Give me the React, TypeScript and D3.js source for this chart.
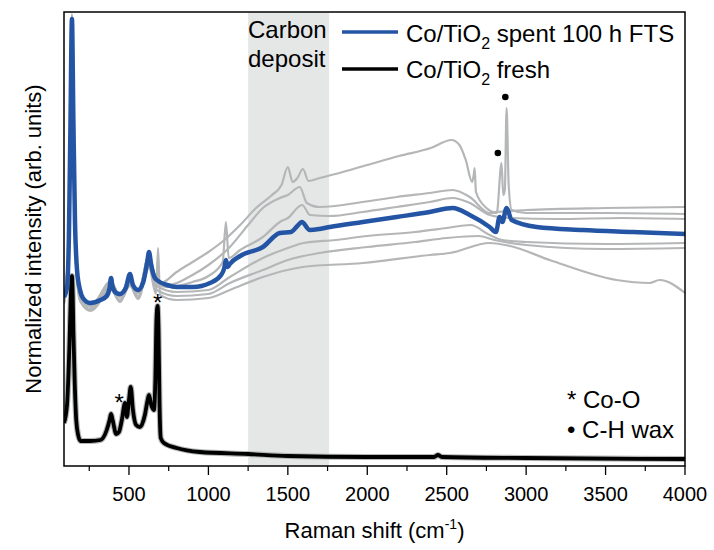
import React from "react";
import * as d3 from "d3";

type Pt = [number, number];

// Raman shift (cm-1), normalized intensity (arb. units)
const spent100h: Pt[] = [
  [91, 169], [110, 179], [122, 231], [132, 346], [141, 447], [150, 346], [160, 246], [173, 196], [192, 176],
  [210, 168], [255, 163], [320, 166], [360, 170], [378, 178], [387, 188], [397, 179], [420, 173], [443, 172],
  [480, 178], [506, 192], [525, 181], [557, 176], [590, 184], [615, 204], [626, 214], [640, 201], [660, 189],
  [676, 186], [740, 181], [800, 179], [903, 179], [1010, 183], [1080, 191], [1100, 198], [1110, 206], [1122, 199],
  [1135, 202], [1200, 210], [1343, 219], [1450, 233], [1520, 234], [1560, 240], [1588, 244], [1638, 236],
  [1700, 237], [1764, 239], [1972, 244], [2185, 249], [2393, 254], [2538, 258], [2645, 251], [2770, 239],
  [2810, 234], [2833, 249], [2850, 244], [2877, 258], [2909, 246], [3066, 239], [3355, 236], [3670, 234], [4000, 232],
];

const fresh: Pt[] = [
  [91, 43], [110, 61], [125, 120], [133, 165], [141, 190], [146, 170], [150, 135], [158, 86], [168, 46], [180, 31],
  [195, 25], [255, 25], [320, 26], [360, 36], [378, 46], [387, 52], [397, 46], [420, 32], [437, 34], [455, 46],
  [475, 63], [487, 49], [500, 66], [511, 79], [525, 56], [545, 41], [569, 39], [600, 51], [615, 64], [626, 71],
  [640, 61], [657, 56], [666, 86], [673, 146], [680, 160], [686, 136], [692, 66], [700, 28], [720, 23], [800, 18],
  [946, 14], [1250, 12], [1500, 10], [2000, 9], [2420, 9], [2445, 11], [2470, 9], [3000, 8], [4000, 7],
];

const spentA: Pt[] = [
  [91, 166], [122, 226], [132, 341], [141, 452], [150, 341], [160, 241], [175, 191], [195, 172],
  [260, 159], [387, 184], [443, 169], [506, 188], [557, 173], [626, 210], [676, 183], [700, 183], [800, 194],
  [900, 204], [1000, 214], [1100, 226], [1200, 241], [1300, 258], [1400, 271], [1460, 281], [1500, 299],
  [1530, 284], [1560, 288], [1595, 297], [1630, 285], [1700, 288], [1800, 292], [2000, 301], [2200, 310],
  [2400, 318], [2530, 326], [2580, 321], [2620, 306], [2660, 284], [2670, 291], [2676, 298], [2684, 274],
  [2750, 258], [2800, 254], [3000, 256], [3500, 258], [4000, 259],
];

const spentB: Pt[] = [
  [91, 167], [122, 221], [132, 331], [141, 441], [150, 331], [160, 236], [175, 188], [195, 170],
  [260, 161], [387, 183], [443, 170], [506, 187], [557, 174], [626, 208], [676, 184], [750, 181], [900, 191],
  [1000, 201], [1135, 219], [1250, 241], [1343, 258], [1450, 268], [1500, 271], [1575, 279], [1620, 263],
  [1700, 259], [1972, 264], [2185, 269], [2393, 273], [2538, 276], [2645, 269], [2770, 253], [2815, 253],
  [2845, 303], [2856, 271], [2866, 276], [2877, 358], [2890, 281], [2909, 256], [3000, 253], [3500, 253], [4000, 252],
];

const spentC: Pt[] = [
  [91, 165], [122, 216], [132, 326], [141, 436], [150, 326], [160, 231], [175, 186], [195, 168],
  [260, 160], [387, 185], [443, 169], [506, 189], [557, 173], [626, 211], [676, 183], [750, 179], [900, 184],
  [1000, 190], [1090, 204], [1110, 244], [1128, 208], [1200, 216], [1343, 229], [1450, 244], [1500, 248],
  [1590, 261], [1640, 251], [1764, 250], [1972, 254], [2185, 259], [2393, 264], [2538, 268], [2645, 263],
  [2770, 251], [2900, 248], [3200, 247], [3600, 248], [4000, 247],
];

const spentD: Pt[] = [
  [91, 164], [122, 228], [132, 338], [141, 446], [150, 338], [160, 240], [175, 189], [195, 166],
  [260, 157], [387, 180], [443, 166], [506, 184], [557, 170], [626, 204], [676, 180], [800, 174], [1000, 176],
  [1135, 189], [1343, 208], [1500, 218], [1600, 223], [1800, 226], [2000, 230], [2300, 234], [2500, 238],
  [2650, 241], [2770, 231], [2850, 226], [3000, 224], [3500, 222], [4000, 223],
];

const spentE: Pt[] = [
  [91, 163], [122, 218], [132, 328], [141, 438], [150, 328], [160, 233], [175, 184], [195, 165],
  [260, 156], [387, 178], [443, 165], [506, 182], [557, 168], [626, 200], [676, 176], [800, 170], [1000, 172],
  [1135, 183], [1343, 196], [1500, 206], [1700, 213], [2000, 219], [2300, 224], [2500, 228], [2700, 230],
  [2800, 226], [3000, 221], [3500, 217], [4000, 218],
];

const spentF: Pt[] = [
  [91, 162], [122, 214], [132, 321], [141, 431], [150, 321], [160, 228], [175, 182], [195, 164],
  [260, 155], [387, 176], [443, 164], [506, 180], [557, 167], [626, 198], [670, 172], [683, 218], [695, 171],
  [800, 166], [1000, 168], [1135, 176], [1343, 189], [1594, 199], [1972, 203], [2393, 211], [2519, 213],
  [2770, 223], [2900, 220], [3148, 206], [3569, 186], [3777, 183], [3840, 186], [4000, 173],
];

const grayGroup: Pt[][] = [spentF, spentE, spentD, spentC, spentB, spentA];

const carbonBand: [number, number] = [1250, 1760];
const majorTicks = [500, 1000, 1500, 2000, 2500, 3000, 3500, 4000];
const minorTicks = [250, 750, 1250, 1750, 2250, 2750, 3250, 3750];

const coOMarks: Pt[] = [[439, 69], [681, 169]];
const chWaxMarks: Pt[] = [[2822, 313], [2869, 369]];

const W = 714;
const H = 550;
const L = 64, R = 685, T = 12, B = 466;
const FONT = "'Liberation Sans', Arial, Helvetica, sans-serif";
const BLUE = "#2455a5";
const GRAY = "#b4b6b8";

export default function App() {
  const x = d3.scaleLinear().domain([91, 4000]).range([L, R]);
  const y = d3.scaleLinear().domain([0, 454]).range([B, T]);
  const line = d3
    .line<Pt>()
    .x((d) => x(d[0]))
    .y((d) => y(d[1]))
    .curve(d3.curveMonotoneX);

  return (
    <svg
      width={W}
      height={H}
      viewBox={`0 0 ${W} ${H}`}
      style={{ position: "absolute", left: 0, top: 0, display: "block", background: "#fff" }}
      fontFamily={FONT}
    >
      <defs>
        <clipPath id="plot">
          <rect x={L} y={T} width={R - L} height={B - T} />
        </clipPath>
      </defs>
      <rect
        x={x(carbonBand[0])}
        y={T}
        width={x(carbonBand[1]) - x(carbonBand[0])}
        height={B - T}
        fill="#e5e6e6"
      />
      <g clipPath="url(#plot)" fill="none" strokeLinejoin="round">
        {grayGroup.map((s, i) => (
          <path key={i} d={line(s) || ""} stroke={GRAY} strokeWidth={2.2} />
        ))}
        <path d={line(fresh) || ""} stroke={GRAY} strokeWidth={6} />
        <path d={line(fresh) || ""} stroke="#000" strokeWidth={3.8} />
        <path d={line(spent100h) || ""} stroke={BLUE} strokeWidth={4.5} />
      </g>
      <rect x={L} y={T} width={R - L} height={B - T} fill="none" stroke="#000" strokeWidth={1.5} />
      {majorTicks.map((t) => (
        <g key={t}>
          <line x1={x(t)} x2={x(t)} y1={B} y2={B + 9} stroke="#000" strokeWidth={1.3} />
          <text x={x(t)} y={B + 35} fontSize={20} textAnchor="middle">
            {t}
          </text>
        </g>
      ))}
      {minorTicks.map((t) => (
        <line key={t} x1={x(t)} x2={x(t)} y1={B} y2={B + 5} stroke="#000" strokeWidth={1.2} />
      ))}
      <text x={(L + R) / 2} y={538} fontSize={22} textAnchor="middle">
        Raman shift (cm
        <tspan fontSize={14} dy={-9}>-1</tspan>
        <tspan dy={9}>)</tspan>
      </text>
      <text
        transform={`translate(41, ${(T + B) / 2}) rotate(-90)`}
        fontSize={22}
        textAnchor="middle"
      >
        Normalized intensity (arb. units)
      </text>
      <text x={248} y={38} fontSize={24}>Carbon</text>
      <text x={248} y={67} fontSize={24}>deposit</text>
      <line x1={342} x2={398} y1={32} y2={32} stroke={BLUE} strokeWidth={3.5} />
      <line x1={342} x2={398} y1={69} y2={69} stroke="#000" strokeWidth={3.5} />
      <text x={406} y={42} fontSize={24}>
        Co/TiO
        <tspan fontSize={16} dy={7}>2</tspan>
        <tspan dy={-7}> spent 100 h FTS</tspan>
      </text>
      <text x={406} y={78} fontSize={24}>
        Co/TiO
        <tspan fontSize={16} dy={7}>2</tspan>
        <tspan dy={-7}> fresh</tspan>
      </text>
      {coOMarks.map((m, i) => (
        <text key={i} x={x(m[0])} y={y(m[1]) + 14} fontSize={24} textAnchor="middle">
          *
        </text>
      ))}
      {chWaxMarks.map((m, i) => (
        <circle key={i} cx={x(m[0])} cy={y(m[1])} r={3.3} fill="#000" />
      ))}
      <text x={567} y={408} fontSize={24}>* Co-O</text>
      <text x={567} y={438} fontSize={24}>• C-H wax</text>
    </svg>
  );
}
